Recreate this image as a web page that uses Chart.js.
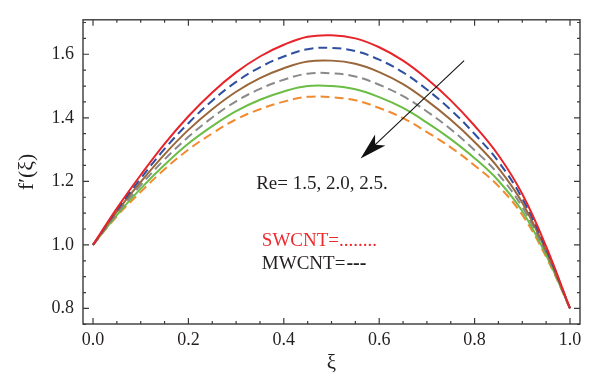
<!DOCTYPE html>
<html>
<head>
<meta charset="utf-8">
<script src="https://cdn.jsdelivr.net/npm/chart.js@4.4.1/dist/chart.umd.min.js"></script>
<style>
  html, body { margin: 0; padding: 0; background: #fff; }
  #wrap { width: 597px; height: 383px; }
</style>
</head>
<body>
<div id="wrap"><canvas id="velChart"></canvas></div>
<script>
// ===== Daten: f'(xi) für SWCNT / MWCNT bei Re = 1.5, 2.0, 2.5 =====
const XI = [0, 0.05, 0.1, 0.15, 0.2, 0.25, 0.3, 0.35, 0.4, 0.45, 0.5,
            0.55, 0.6, 0.65, 0.7, 0.75, 0.8, 0.85, 0.9, 0.95, 1.0];

const swRe15 = [1.000, 1.115, 1.220, 1.318, 1.405, 1.480, 1.543, 1.593, 1.630, 1.655, 1.660,
                1.650, 1.622, 1.580, 1.523, 1.455, 1.375, 1.282, 1.160, 0.995, 0.800];
const mwRe15 = [1.000, 1.110, 1.209, 1.302, 1.383, 1.454, 1.513, 1.559, 1.593, 1.616, 1.620,
                1.610, 1.583, 1.543, 1.489, 1.425, 1.349, 1.262, 1.146, 0.988, 0.800];
const swRe20 = [1.000, 1.105, 1.198, 1.285, 1.362, 1.427, 1.482, 1.525, 1.556, 1.577, 1.580,
                1.570, 1.544, 1.506, 1.454, 1.394, 1.324, 1.242, 1.133, 0.981, 0.800];
const mwRe20 = [1.000, 1.099, 1.188, 1.269, 1.340, 1.401, 1.452, 1.491, 1.520, 1.539, 1.540,
                1.530, 1.504, 1.468, 1.420, 1.364, 1.298, 1.222, 1.119, 0.975, 0.800];
const swRe25 = [1.000, 1.094, 1.177, 1.252, 1.319, 1.374, 1.421, 1.457, 1.483, 1.500, 1.500,
                1.490, 1.465, 1.431, 1.385, 1.333, 1.273, 1.202, 1.106, 0.968, 0.800];
const mwRe25 = [1.000, 1.090, 1.167, 1.238, 1.300, 1.351, 1.395, 1.427, 1.451, 1.466, 1.465,
                1.455, 1.431, 1.399, 1.355, 1.307, 1.250, 1.185, 1.094, 0.962, 0.800];

const X_TICKS = [0, 0.2, 0.4, 0.6, 0.8, 1.0];
const Y_TICKS = [0.8, 1.0, 1.2, 1.4, 1.6];
const X_MINOR = [0.05, 0.1, 0.15, 0.25, 0.3, 0.35, 0.45, 0.5, 0.55, 0.65, 0.7, 0.75, 0.85, 0.9, 0.95];
const Y_MINOR = [0.75, 0.85, 0.9, 0.95, 1.05, 1.1, 1.15, 1.25, 1.3, 1.35, 1.45, 1.5, 1.55, 1.65, 1.7];

const RE_LABEL = 'Re= 1.5, 2.0, 2.5.';
const SW_LABEL = 'SWCNT=........';
const MW_LABEL = 'MWCNT=';

const FONT = '"Liberation Serif", "DejaVu Serif", serif';
const INK = '#231f20';

const toPoints = arr => arr.map((y, i) => ({ x: XI[i], y }));

function line(data, color, dash) {
  return {
    data: toPoints(data),
    borderColor: color,
    borderWidth: 2,
    borderDash: dash || [],
    pointRadius: 0,
    tension: 0.4,
    fill: false
  };
}

// ===== Rahmen, Innen-Ticks, Pfeil und Beschriftung =====
const decorPlugin = {
  id: 'decor',
  afterDraw(c) {
    const { ctx, chartArea: a } = c;
    const xs = c.scales.x, ys = c.scales.y;
    ctx.save();
    ctx.strokeStyle = '#3a3a3a';
    ctx.lineWidth = 1.4;
    ctx.strokeRect(a.left, a.top, a.right - a.left, a.bottom - a.top);

    ctx.lineWidth = 1.2;
    ctx.beginPath();
    const tickX = (v, len) => {
      const px = xs.getPixelForValue(v);
      ctx.moveTo(px, a.bottom); ctx.lineTo(px, a.bottom - len);
      ctx.moveTo(px, a.top); ctx.lineTo(px, a.top + len);
    };
    const tickY = (v, len) => {
      const py = ys.getPixelForValue(v);
      ctx.moveTo(a.left, py); ctx.lineTo(a.left + len, py);
      ctx.moveTo(a.right, py); ctx.lineTo(a.right - len, py);
    };
    X_TICKS.forEach(v => tickX(v, 6));
    X_MINOR.forEach(v => tickX(v, 3));
    Y_TICKS.forEach(v => tickY(v, 6));
    Y_MINOR.forEach(v => tickY(v, 3));
    ctx.stroke();

    // Pfeil (Richtung wachsender Re)
    const x0 = xs.getPixelForValue(0.778), y0 = ys.getPixelForValue(1.580);
    const x1 = xs.getPixelForValue(0.561), y1 = ys.getPixelForValue(1.272);
    const len = Math.hypot(x0 - x1, y0 - y1);
    const bx = (x0 - x1) / len, by = (y0 - y1) / len;   // zurück zum Start
    const px = -by, py = bx;
    ctx.strokeStyle = '#111';
    ctx.lineWidth = 1.1;
    ctx.beginPath();
    ctx.moveTo(x0, y0);
    ctx.lineTo(x1 + bx * 18, y1 + by * 18);
    ctx.stroke();
    ctx.fillStyle = '#111';
    ctx.beginPath();
    ctx.moveTo(x1, y1);
    ctx.lineTo(x1 + bx * 27 + px * 7.5, y1 + by * 27 + py * 7.5);
    ctx.lineTo(x1 + bx * 20, y1 + by * 20);
    ctx.lineTo(x1 + bx * 27 - px * 7.5, y1 + by * 27 - py * 7.5);
    ctx.closePath();
    ctx.fill();

    // Texte
    ctx.textBaseline = 'alphabetic';
    ctx.textAlign = 'left';
    ctx.font = `19px ${FONT}`;
    ctx.fillStyle = INK;
    ctx.fillText(RE_LABEL, xs.getPixelForValue(0.342), ys.getPixelForValue(1.176));

    ctx.fillStyle = '#ee2a2f';
    ctx.fillText(SW_LABEL, xs.getPixelForValue(0.354), ys.getPixelForValue(0.997));

    ctx.fillStyle = INK;
    const mx = xs.getPixelForValue(0.354), my = ys.getPixelForValue(0.924);
    ctx.fillText(MW_LABEL, mx, my);
    const w = ctx.measureText(MW_LABEL).width;
    ctx.font = `bold 20px ${FONT}`;
    ctx.fillText('---', mx + w + 1, my);
    ctx.restore();
  }
};

const tickFont = { family: FONT, size: 18 };

new Chart(document.getElementById('velChart'), {
  type: 'line',
  data: {
    datasets: [
      line(swRe15, '#e8232a'),
      line(mwRe15, '#2f4f9f', [9, 5]),
      line(swRe20, '#9a673a'),
      line(mwRe20, '#8a8a8a', [9, 5]),
      line(swRe25, '#6bbd45'),
      line(mwRe25, '#f28a30', [9, 5])
    ]
  },
  options: {
    responsive: true,
    maintainAspectRatio: false,
    animation: false,
    layout: { padding: { top: 9, right: 17, left: 0, bottom: 0 } },
    plugins: {
      legend: { display: false },
      tooltip: { enabled: false }
    },
    scales: {
      x: {
        type: 'linear',
        min: -0.021,
        max: 1.021,
        afterBuildTicks: s => { s.ticks = X_TICKS.map(v => ({ value: v })); },
        afterFit: s => { s.height = 59; },
        grid: { display: false, drawTicks: false },
        border: { display: false },
        ticks: {
          color: INK, font: tickFont, padding: 5, maxRotation: 0,
          callback: v => v.toFixed(1)
        },
        title: {
          display: true, text: 'ξ', color: INK,
          font: { family: FONT, size: 21 }, padding: { top: 2, bottom: 7 }
        }
      },
      y: {
        min: 0.751,
        max: 1.7085,
        afterBuildTicks: s => { s.ticks = Y_TICKS.map(v => ({ value: v })); },
        afterFit: s => { s.width = 83; },
        grid: { display: false, drawTicks: false },
        border: { display: false },
        ticks: {
          color: INK, font: tickFont, padding: 9,
          callback: v => v.toFixed(1)
        },
        title: {
          display: true, text: 'f′(ξ)', color: INK,
          font: { family: FONT, size: 22 }, padding: { top: 14, bottom: 6 }
        }
      }
    }
  },
  plugins: [decorPlugin]
});
</script>
</body>
</html>
